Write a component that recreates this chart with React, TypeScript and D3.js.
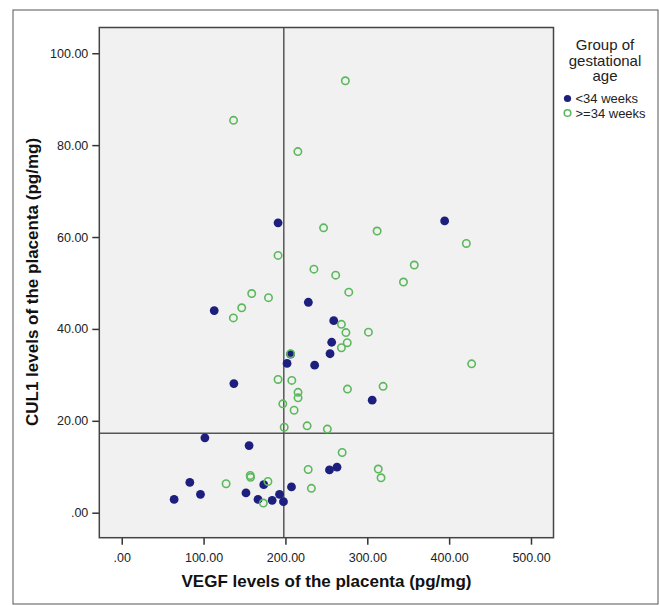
import { useEffect, useRef } from 'react';
import * as d3 from 'd3';

// <34 weeks (filled navy dots): [VEGF, CUL1]
const earlyVegf = [191, 394.5, 228, 113, 259, 256.5, 254.5, 206.3, 202, 235.7, 137, 306, 101.6, 155.6, 253.8, 263, 83.2, 173.5, 207.4, 96.2, 151.8, 192.8, 64, 166.5, 183.8, 197.6];
const earlyCul1 = [63.1, 63.5, 45.8, 44.0, 41.8, 37.1, 34.6, 34.5, 32.5, 32.1, 28.1, 24.5, 16.3, 14.6, 9.3, 9.9, 6.6, 6.1, 5.6, 4.0, 4.3, 4.0, 2.9, 2.9, 2.7, 2.4];

// >=34 weeks (open green circles)
const lateVegf = [273.2, 136.6, 215.2, 246.6, 312, 421, 191, 357.4, 234.8, 261.4, 344.2, 158.8, 277.4, 179.3, 146.6, 136.4, 268.4, 273.9, 301.4, 275.5, 268.4, 206.3, 427.5, 191, 207.8, 215.4, 215.4, 319.3, 275.8, 196.8, 210.6, 198.5, 226.5, 251.2, 269.3, 227.8, 313.4, 316.8, 157, 157.4, 178.6, 127.5, 231.7, 173];
const lateCul1 = [94.0, 85.4, 78.6, 62.0, 61.3, 58.6, 56.0, 53.9, 53.0, 51.7, 50.2, 47.7, 48.0, 46.8, 44.6, 42.4, 41.0, 39.2, 39.3, 37.0, 35.9, 34.6, 32.4, 29.0, 28.8, 26.2, 25.0, 27.5, 26.9, 23.7, 22.3, 18.6, 18.9, 18.2, 13.1, 9.4, 9.5, 7.6, 8.1, 7.7, 6.8, 6.3, 5.3, 2.1];

const xTicks = [0, 100, 200, 300, 400, 500];
const yTicks = [0, 20, 40, 60, 80, 100];
const refX = 198;
const refY = 17.3;

const legendTitle = ['Group of', 'gestational', 'age'];
const legendLabels = ['<34 weeks', '>=34 weeks'];

const NAVY = '#1c1f7e';
const GREEN = '#5cb85c';
const fmt = (v: number) => (v === 0 ? '.00' : v.toFixed(2));

export default function App() {
  const gRef = useRef<SVGGElement>(null);

  const x = d3.scaleLinear().domain([-27.4, 527.5]).range([99.3, 553.5]);
  const y = d3.scaleLinear().domain([-5.44, 105.6]).range([537.7, 27.5]);
  const [x0, x1] = x.range();
  const [y0, y1] = y.range();

  useEffect(() => {
    if (!gRef.current) return;
    const g = d3.select(gRef.current);
    g.selectAll('*').remove();

    const xAxis = d3.axisBottom(x).tickValues(xTicks).tickFormat((d) => fmt(+d)).tickSize(7).tickSizeOuter(0);
    const yAxis = d3.axisLeft(y).tickValues(yTicks).tickFormat((d) => fmt(+d)).tickSize(7).tickSizeOuter(0);

    const gx = g.append('g').attr('transform', `translate(0,${y0})`).call(xAxis);
    const gy = g.append('g').attr('transform', `translate(${x0},0)`).call(yAxis);
    [gx, gy].forEach((a) => {
      a.select('.domain').remove();
      a.selectAll('line').attr('stroke', '#333').attr('stroke-width', 1.5);
      a.selectAll('text')
        .attr('fill', '#222')
        .attr('font-size', 12.5)
        .attr('font-family', 'Liberation Sans, Arial, sans-serif');
    });
    gx.selectAll('text').attr('dy', '1.15em');
    gy.selectAll('text').attr('dx', '-1px');

    const pts = g.append('g');
    pts.selectAll('circle.early')
      .data(earlyVegf.map((v, i) => [v, earlyCul1[i]]))
      .join('circle')
      .attr('class', 'early')
      .attr('cx', (d) => x(d[0]))
      .attr('cy', (d) => y(d[1]))
      .attr('r', 4.4)
      .attr('fill', NAVY);
    pts.selectAll('circle.late')
      .data(lateVegf.map((v, i) => [v, lateCul1[i]]))
      .join('circle')
      .attr('class', 'late')
      .attr('cx', (d) => x(d[0]))
      .attr('cy', (d) => y(d[1]))
      .attr('r', 3.7)
      .attr('fill', 'none')
      .attr('stroke', GREEN)
      .attr('stroke-width', 1.6);
  }, []);

  return (
    <svg
      width={659}
      height={605}
      style={{ position: 'absolute', left: 0, top: 0, background: '#fff' }}
      fontFamily="Liberation Sans, Arial, sans-serif"
    >
      <rect x={13} y={10} width={645} height={594} fill="#fff" stroke="#555" strokeWidth={1} />
      <rect x={x0} y={y1} width={x1 - x0} height={y0 - y1} fill="#f1f1f1" />
      <line x1={x(refX)} x2={x(refX)} y1={y1} y2={y0} stroke="#555" strokeWidth={1.5} />
      <line x1={x0} x2={x1} y1={y(refY)} y2={y(refY)} stroke="#555" strokeWidth={1.5} />
      <g ref={gRef} />
      <rect x={x0} y={y1} width={x1 - x0} height={y0 - y1} fill="none" stroke="#444" strokeWidth={1.5} />

      <text x={326.5} y={587} textAnchor="middle" fontWeight="bold" fontSize={17} fill="#111">
        VEGF levels of the placenta (pg/mg)
      </text>
      <text
        transform={`translate(38,${282}) rotate(-90)`}
        textAnchor="middle"
        fontWeight="bold"
        fontSize={17}
        fill="#111"
      >
        CUL1 levels of the placenta (pg/mg)
      </text>

      {legendTitle.map((t, i) => (
        <text key={t} x={605} y={50 + i * 15.5} textAnchor="middle" fontSize={15} fill="#222">
          {t}
        </text>
      ))}
      {legendLabels.map((t, i) => (
        <g key={t} transform={`translate(567.5,${98.5 + i * 14.5})`}>
          {i === 0 ? (
            <circle r={3.6} fill={NAVY} />
          ) : (
            <circle r={3.3} fill="none" stroke={GREEN} strokeWidth={1.5} />
          )}
          <text x={8} y={4.5} fontSize={13} fill="#222">
            {t}
          </text>
        </g>
      ))}
    </svg>
  );
}
